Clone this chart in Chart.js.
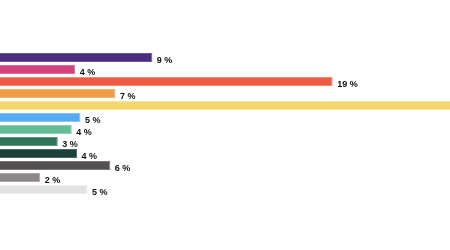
<!DOCTYPE html>
<html>
<head>
<meta charset="utf-8">
<script src="https://cdn.jsdelivr.net/npm/chart.js@4/dist/chart.umd.min.js"></script>
<style>
html,body{margin:0;padding:0;background:#fff;}
#wrap{width:450px;height:250px;position:relative;}
</style>
</head>
<body>
<div id="wrap"><canvas id="c"></canvas></div>
<script>
const categories = ["A","B","C","D","E","F","G","H","I","J","K","L"];
const values = [8.7, 4.3, 19.0, 6.6, 31.4, 4.6, 4.1, 3.3, 4.4, 6.3, 2.3, 5.0];
const colors = ["#4b2e80","#d4417a","#ee5a42","#f29b45","#f7d56f","#55aaf4","#63bf93","#2e7459","#1e403b","#545050","#8b8787","#e3e3e3"];
const borders = ["#6a55a0","#e06a96","#f48a76","#f6b47a","#fae39a","#85c2f7","#8ed1b1","#5c957f","#4c6663","#7a7676","#aaa7a7","#eeeeee"];
const xMax = 25.7;

const labelPlugin = {
  id: 'barLabels',
  afterDatasetsDraw(chart) {
    const ctx = chart.ctx;
    const meta = chart.getDatasetMeta(0);
    ctx.save();
    ctx.font = 'bold 9px "Liberation Sans", Arial, sans-serif';
    ctx.fillStyle = '#111';
    ctx.textAlign = 'left';
    ctx.textBaseline = 'alphabetic';
    meta.data.forEach((bar, i) => {
      const txt = Math.round(values[i]) + ' %';
      ctx.fillText(txt, bar.x + 4.5, bar.y + 5.5);
    });
    ctx.restore();
  }
};

new Chart(document.getElementById('c'), {
  type: 'bar',
  data: {
    labels: categories,
    datasets: [{
      data: values,
      backgroundColor: colors,
      borderColor: borders,
      borderWidth: {top: 1, bottom: 1, right: 1, left: 0},
      borderSkipped: false,
      categoryPercentage: 1,
      barPercentage: 0.75
    }]
  },
  options: {
    indexAxis: 'y',
    responsive: true,
    maintainAspectRatio: false,
    animation: false,
    layout: { padding: { top: 51.5, bottom: 54.5, left: 0, right: 0 } },
    plugins: { legend: { display: false }, tooltip: { enabled: false } },
    scales: {
      x: { display: false, min: 0, max: xMax },
      y: { display: false }
    }
  },
  plugins: [labelPlugin]
});
</script>
</body>
</html>
